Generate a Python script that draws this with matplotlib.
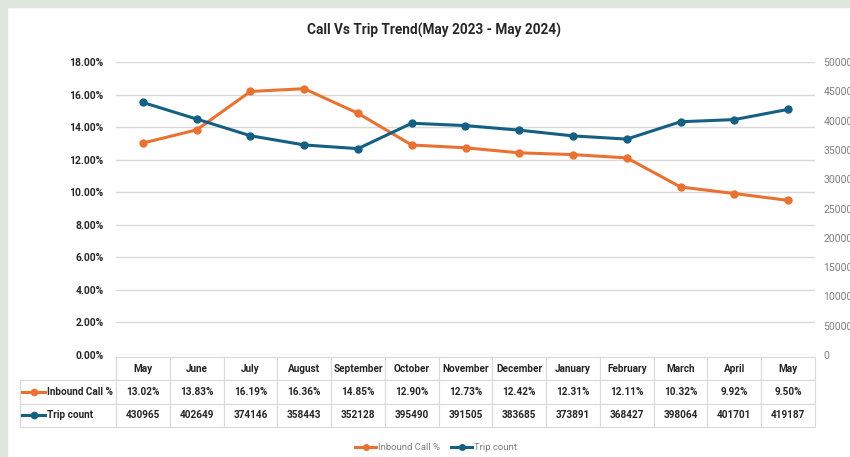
import matplotlib
matplotlib.use("Agg")
import matplotlib.pyplot as plt
from matplotlib.lines import Line2D
from matplotlib.patches import Rectangle
from matplotlib.ticker import FuncFormatter

months = ["May", "June", "July", "August", "September", "October", "November",
          "December", "January", "February", "March", "April", "May"]
inbound_pct = [13.02, 13.83, 16.19, 16.36, 14.85, 12.90, 12.73,
               12.42, 12.31, 12.11, 10.32, 9.92, 9.50]
trip_count = [430965, 402649, 374146, 358443, 352128, 395490, 391505,
              383685, 373891, 368427, 398064, 401701, 419187]

orange = "#E97132"
blue = "#156082"
grid_col = "#d9d9d9"
plt.rcParams["font.family"] = ["Roboto", "DejaVu Sans"]

W, H = 850, 457
fig = plt.figure(figsize=(8.5, 4.57), dpi=100)
fig.patch.set_facecolor("white")

# green-grey frame band on top and left
fig.patches.append(Rectangle((0, 1 - 7 / H), 1, 7 / H, transform=fig.transFigure,
                             color="#dde7dc", zorder=0))
fig.patches.append(Rectangle((0, 0), 7 / W, 1, transform=fig.transFigure,
                             color="#dde7dc", zorder=0))

left, right, top, bottom = 116, 815, 62, 355
ax = fig.add_axes([left / W, 1 - bottom / H, (right - left) / W, (bottom - top) / H])
ax.set_facecolor("none")
x = list(range(len(months)))

ax.set_xlim(-0.5, len(months) - 0.5)
ax.set_ylim(0, 18)
ax.set_yticks(range(0, 19, 2))
ax.yaxis.set_major_formatter(FuncFormatter(lambda v, p: "%.2f%%" % v))
ax.grid(axis="y", color=grid_col, linewidth=1)
ax.set_axisbelow(True)
ax.set_xticks([])
for s in ax.spines.values():
    s.set_visible(False)
ax.tick_params(axis="y", length=0, pad=9, labelsize=7.4, labelcolor="#262626")
for t in ax.get_yticklabels():
    t.set_fontweight("bold")

ax2 = ax.twinx()
ax2.set_ylim(0, 500000)
ax2.set_yticks(range(0, 500001, 50000))
ax2.tick_params(axis="y", length=0, pad=6, labelsize=7.5, labelcolor="#7f7f7f")
for s in ax2.spines.values():
    s.set_visible(False)

ax.plot(x, inbound_pct, color=orange, lw=2.2, marker="o", ms=5, zorder=3)
ax2.plot(x, trip_count, color=blue, lw=2.2, marker="o", ms=5, zorder=3)

# data table, first column holds the series names
ph = bottom - top
pw = right - left
cell_text = [[""] + ["%.2f%%" % v for v in inbound_pct],
             [""] + [str(v) for v in trip_count]]
col_w = [96 / pw] + [1 / 13] * 13
tbl = ax.table(cellText=cell_text, colLabels=[""] + months, colWidths=col_w,
               cellLoc="center",
               bbox=[(20 - left) / pw, -(427 - bottom) / ph, (right - 20) / pw, 70 / ph])
tbl.auto_set_font_size(False)
for (r, c), cell in tbl.get_celld().items():
    cell.set_edgecolor(grid_col)
    cell.set_linewidth(0.8)
    cell.get_text().set_fontsize(7.2)
    cell.get_text().set_fontweight("bold")
    cell.get_text().set_color("#262626")
tbl[0, 0].visible_edges = "BR"

# row labels with legend keys
for i, (lab, col) in enumerate([("Inbound Call %", orange), ("Trip count", blue)]):
    yp = 392 + i * 23
    ya = (bottom - yp) / ph
    ax.add_line(Line2D([(22 - left) / pw, (45 - left) / pw], [ya, ya], transform=ax.transAxes,
                       color=col, lw=2.2, clip_on=False))
    ax.plot([(33.5 - left) / pw], [ya], transform=ax.transAxes, color=col, marker="o",
            ms=4.5, clip_on=False)
    ax.text((47 - left) / pw, ya, lab, transform=ax.transAxes, ha="left", va="center",
            fontsize=7.2, fontweight="bold", color="#262626")

fig.text(434 / W, 1 - 30 / H, "Call Vs Trip Trend(May 2023 - May 2024)", ha="center",
         va="center", fontsize=9.8, fontweight="bold", color="#262626")

handles = [Line2D([], [], color=orange, lw=2.2, marker="o", ms=4),
           Line2D([], [], color=blue, lw=2.2, marker="o", ms=4)]
fig.legend(handles, ["Inbound Call %", "Trip count"], loc="center",
           bbox_to_anchor=(436 / W, 1 - 448 / H), ncol=2, frameon=False,
           fontsize=6.8, labelcolor="#7f7f7f", handlelength=2.2, handletextpad=0.2,
           columnspacing=1.2)

fig.savefig("out.png", dpi=100)
